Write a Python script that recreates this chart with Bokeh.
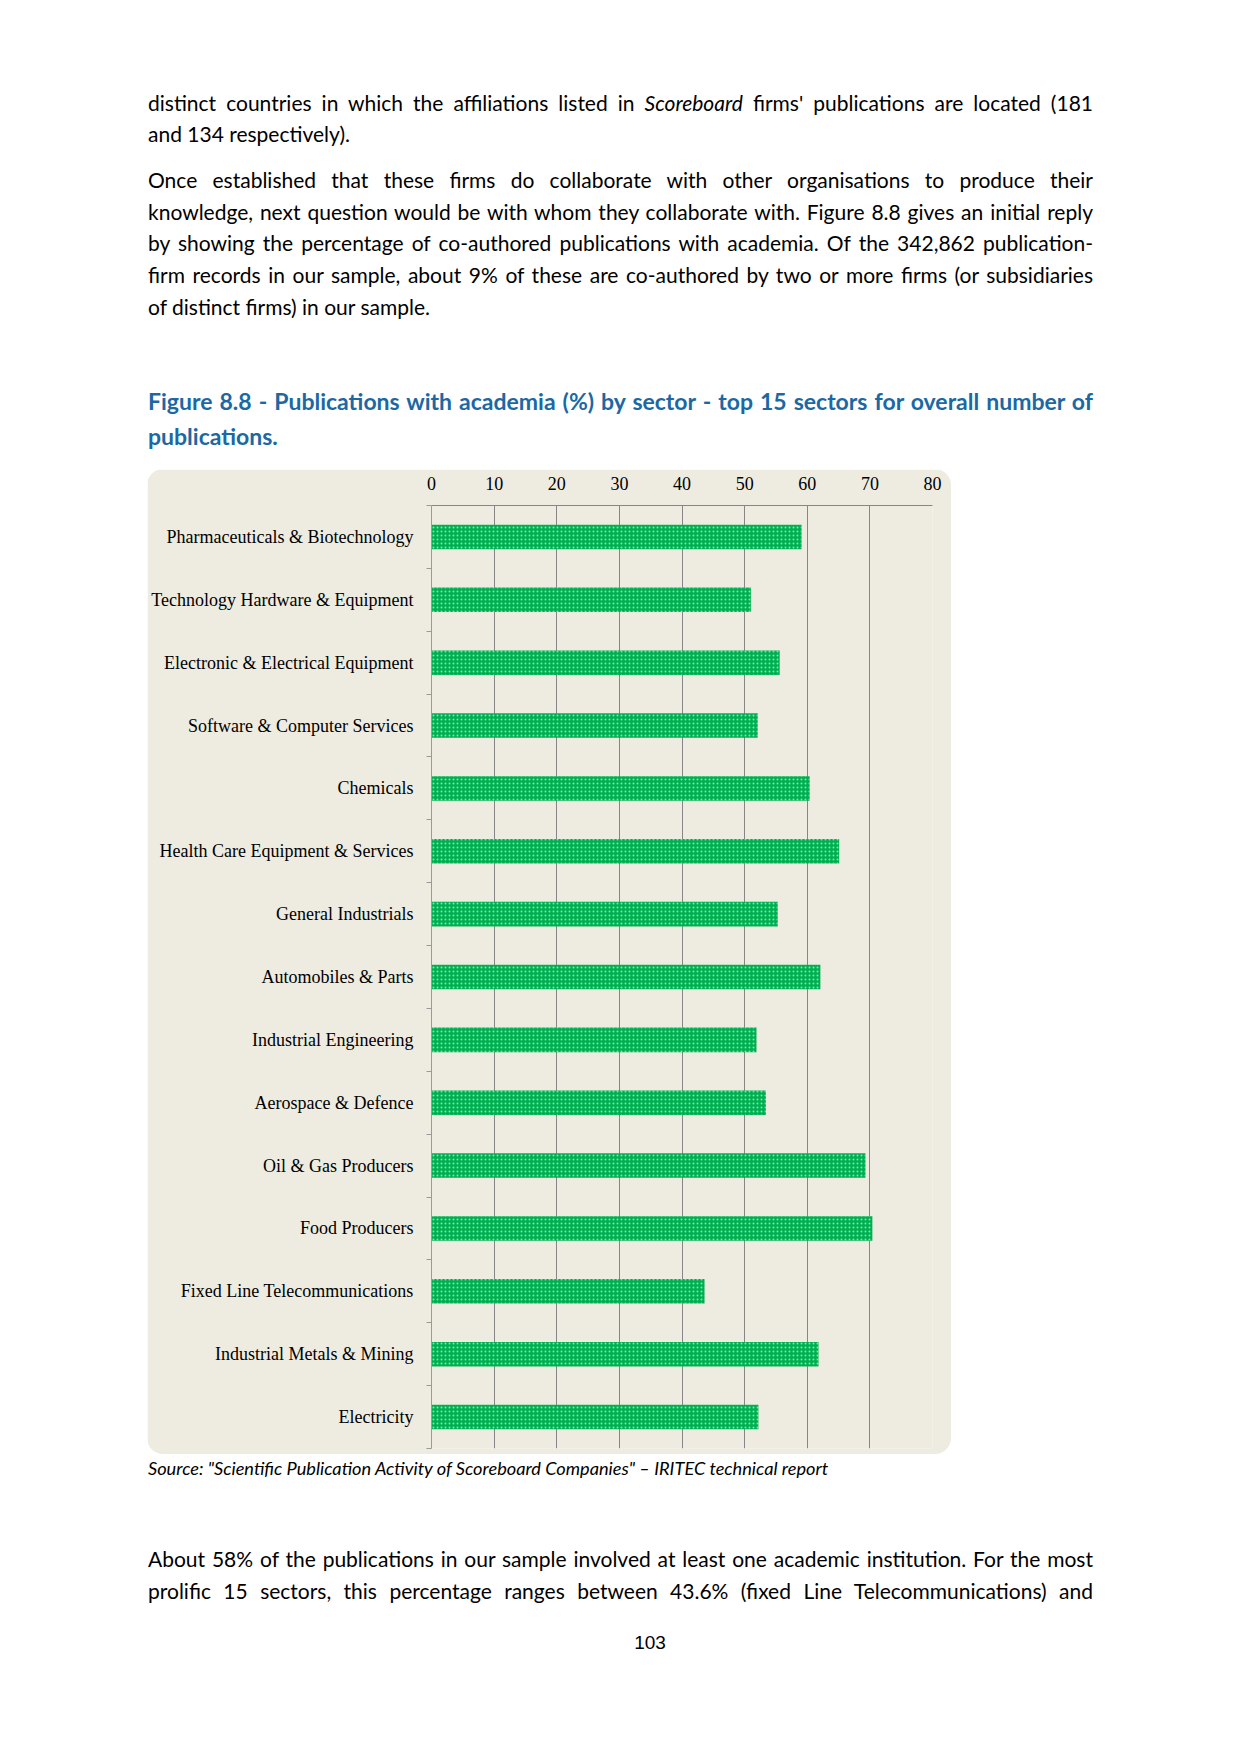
from bokeh.plotting import figure
from bokeh.models import Div, FixedTicker, CustomJSTickFormatter, Range1d
from bokeh.layouts import column
from bokeh.embed import file_html
from bokeh.resources import INLINE

# ---------------- data ----------------
sectors = [
    "Pharmaceuticals & Biotechnology",
    "Technology Hardware & Equipment",
    "Electronic & Electrical Equipment",
    "Software & Computer Services",
    "Chemicals",
    "Health Care Equipment & Services",
    "General Industrials",
    "Automobiles & Parts",
    "Industrial Engineering",
    "Aerospace & Defence",
    "Oil & Gas Producers",
    "Food Producers",
    "Fixed Line Telecommunications",
    "Industrial Metals & Mining",
    "Electricity",
]
academia_pct = [59.1, 51.0, 55.6, 52.1, 60.4, 65.1, 55.3, 62.1, 51.9, 53.4,
                69.3, 70.4, 43.6, 61.8, 52.2]
x_ticks = [0, 10, 20, 30, 40, 50, 60, 70, 80]

para1 = [
    "distinct countries in which the affiliations listed in <i>Scoreboard</i> firms' publications are located (181",
    "and 134 respectively).",
]
para2 = [
    "Once established that these firms do collaborate with other organisations to produce their",
    "knowledge, next question would be with whom they collaborate with. Figure 8.8 gives an initial reply",
    "by showing the percentage of co-authored publications with academia. Of the 342,862 publication-",
    "firm records in our sample, about 9% of these are co-authored by two or more firms (or subsidiaries",
    "of distinct firms) in our sample.",
]
title_lines = [
    "Figure 8.8 - Publications with academia (%) by sector - top 15 sectors for overall number of",
    "publications.",
]
source_text = "Source: &quot;Scientific Publication Activity of Scoreboard Companies&quot; &ndash; IRITEC technical report"
para3 = [
    "About 58% of the publications in our sample involved at least one academic institution. For the most",
    "prolific 15 sectors, this percentage ranges between 43.6% (fixed Line Telecommunications) and",
]
page_number = "103"

# ---------------- styles ----------------
BG = "#EEECE1"
GRID = "#868686"
BAR = "#00B050"
TITLE_COLOR = "#1B68A3"
BODY_FONT = "Lato"
LEFT = 148      # x of text column (page has no margin in Bokeh's template)
TEXT_W = 945
LH = 32
BODY_SIZE = 21


def line(center_y, html, justify=True, size=BODY_SIZE, weight="normal", color="#000",
         style="normal", font=BODY_FONT, left=LEFT, width=TEXT_W, align=None):
    top = center_y - LH / 2
    if align is None:
        align = "justify" if justify else "left"
    last = "justify" if justify else align
    return (f'<div style="position:absolute;left:{left}px;top:{top:.1f}px;width:{width}px;'
            f'height:{LH}px;line-height:{LH}px;white-space:nowrap;text-align:{align};'
            f'text-align-last:{last};font-family:{font};font-size:{size}px;font-weight:{weight};'
            f'font-style:{style};color:{color};">{html}</div>')


def block(lines_html, height):
    return (f'<div style="position:relative;width:1240px;height:{height}px;margin:0;padding:0;">'
            + "".join(lines_html) + "</div>")


# top text (page y 0 .. 469)
TOP_H = 469
top_lines = []
p1_centers = [103, 134.2]
for i, t in enumerate(para1):
    top_lines.append(line(p1_centers[i], t, justify=(i < len(para1) - 1)))
p2_centers = [180, 211.6, 243.2, 275, 307]
for i, t in enumerate(para2):
    top_lines.append(line(p2_centers[i], t, justify=(i < len(para2) - 1)))
t_centers = [401.4, 436]
for i, t in enumerate(title_lines):
    top_lines.append(line(t_centers[i], t, justify=(i < len(title_lines) - 1),
                          size=23, weight="bold", color=TITLE_COLOR))
top_div = Div(text=block(top_lines, TOP_H), width=1240, height=TOP_H, margin=0)

# ---------------- chart ----------------
positions = [i + 0.5 for i in range(len(sectors))]
boundaries = list(range(len(sectors) + 1))

p = figure(width=804, height=985,
           x_range=Range1d(0, 80), y_range=Range1d(len(sectors), 0),
           x_axis_location="above", y_axis_location="left",
           output_backend="svg", toolbar_location=None,
           min_border_left=284, min_border_right=19, min_border_top=36, min_border_bottom=6,
           background_fill_color=BG, border_fill_color=BG, outline_line_color=None,
           margin=(0, 0, 0, 147),
           styles={"border-radius": "16px", "overflow": "hidden"})

p.hbar(y=positions, right=academia_pct, left=0, height=0.39,
       fill_color=BAR, line_color=None,
       hatch_pattern="dot", hatch_color="white", hatch_scale=4, hatch_weight=0.8, hatch_alpha=0.55)

xt = FixedTicker(ticks=x_ticks)
p.xaxis.ticker = xt
p.xaxis.major_tick_out = 0
p.xaxis.major_tick_in = 0
p.xaxis.minor_tick_out = 0
p.xaxis.minor_tick_in = 0
p.xaxis.axis_line_color = GRID
p.xaxis.major_label_text_font = "Liberation Serif"
p.xaxis.major_label_text_font_size = "18px"
p.xaxis.major_label_text_color = "#000000"
p.xaxis.major_label_standoff = 16

p.xgrid.ticker = xt
p.xgrid.grid_line_color = GRID
p.xgrid.grid_line_width = 1
p.ygrid.visible = False

p.yaxis.ticker = FixedTicker(ticks=positions, minor_ticks=boundaries)
p.yaxis.formatter = CustomJSTickFormatter(args=dict(labels=sectors),
                                          code="const i = Math.floor(tick); return (i >= 0 && i < labels.length) ? labels[i] : '';")
p.yaxis.major_tick_out = 0
p.yaxis.major_tick_in = 0
p.yaxis.minor_tick_out = 5
p.yaxis.minor_tick_in = 0
p.yaxis.minor_tick_line_color = "#9A9A9A"
p.yaxis.axis_line_color = "#9A9A9A"
p.yaxis.major_label_standoff = 13
p.yaxis.major_label_text_font = "Liberation Serif"
p.yaxis.major_label_text_font_size = "18px"
p.yaxis.major_label_text_color = "#000000"

# bottom text (page y 1454 .. 1754)
BOT_Y0 = 1454
BOT_H = 300
bot_lines = [line(1468 - BOT_Y0, source_text, justify=False, size=18.2, style="italic")]
p3_centers = [1558.6, 1591]
for i, t in enumerate(para3):
    bot_lines.append(line(p3_centers[i] - BOT_Y0, t, justify=True))
bot_lines.append(line(1642.5 - BOT_Y0, page_number, justify=False, size=19,
                      font="'Liberation Sans'", left=600, width=100, align="center"))
bot_div = Div(text=block(bot_lines, BOT_H), width=1240, height=BOT_H, margin=0)

layout = column(top_div, p, bot_div, spacing=0)

open("out.html", "w").write(file_html(layout, INLINE))
